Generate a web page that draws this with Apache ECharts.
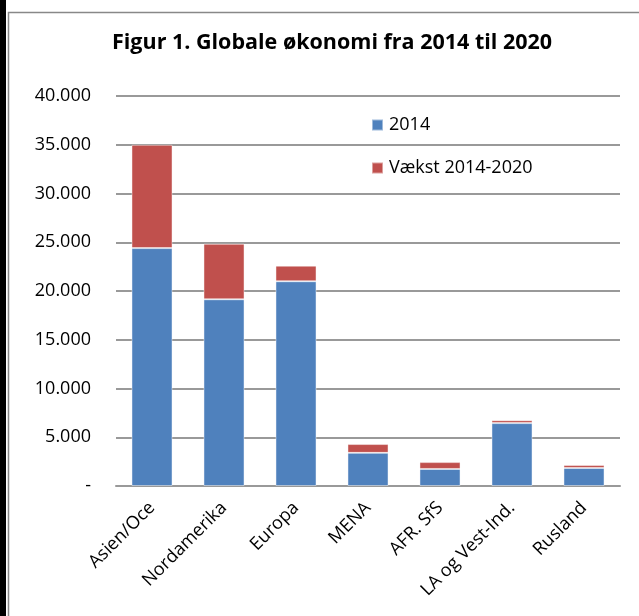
<!DOCTYPE html>
<html>
<head>
<meta charset="utf-8">
<script src="https://cdn.jsdelivr.net/npm/echarts@6/dist/echarts.min.js"></script>
<style>
html,body{margin:0;padding:0;background:#fff;}
#c{width:639px;height:616px;}
</style>
</head>
<body>
<div id="c"></div>
<script>
var categories = ['Asien/Oce', 'Nordamerika', 'Europa', 'MENA', 'AFR. SfS', 'LA og Vest-Ind.', 'Rusland'];
var base2014 = [24400, 19150, 21000, 3400, 1750, 6450, 1850];
var vaekst = [10600, 5700, 1600, 900, 700, 300, 300];
var seriesNames = ['2014', 'Vækst 2014-2020'];
var titleText = 'Figur 1. Globale økonomi fra 2014 til 2020';

var font = 'Open Sans';
var chart = echarts.init(document.getElementById('c'));
chart.setOption({
  animation: false,
  backgroundColor: '#fff',
  title: {
    text: titleText,
    left: 112,
    top: 32,
    padding: 0,
    textStyle: { fontFamily: font, fontWeight: 'bold', fontSize: 21.5, color: '#000' }
  },
  legend: {
    orient: 'vertical',
    left: 366,
    top: 111,
    itemWidth: 11,
    itemHeight: 11,
    itemGap: 25,
    icon: 'rect',
    textStyle: { fontFamily: font, fontSize: 18, color: '#000', padding: [0, 0, 0, 1] },
    data: seriesNames
  },
  graphic: [
    { type: 'rect', shape: { x: 0, y: 0, width: 6, height: 616 }, style: { fill: '#000' } },
    { type: 'polyline', shape: { points: [[8.5, 616], [8.5, 12.5], [639, 12.5]] }, style: { stroke: '#888', lineWidth: 1.5, fill: null } }
  ],
  grid: { left: 116, right: 19, top: 96, bottom: 130, containLabel: false },
  xAxis: {
    type: 'category',
    data: categories,
    axisLine: { show: true, lineStyle: { color: '#999', width: 2 } },
    axisTick: { show: false },
    axisLabel: { rotate: 45, interval: 0, fontFamily: font, fontSize: 18, color: '#000', margin: 19 }
  },
  yAxis: {
    type: 'value',
    min: 0,
    max: 40000,
    interval: 5000,
    axisLine: { show: false },
    axisTick: { show: false },
    splitLine: { lineStyle: { color: '#999', width: 2 } },
    axisLabel: {
      fontFamily: font, fontSize: 18, color: '#000', margin: 25,
      formatter: function (v) { return v === 0 ? '-' : (v / 1000).toFixed(3); }
    }
  },
  series: [
    {
      name: seriesNames[0], type: 'bar', stack: 'a', data: base2014,
      barWidth: '57%',
      itemStyle: { color: '#4F81BD', borderColor: 'rgba(255,255,255,0.45)', borderWidth: 1 }
    },
    {
      name: seriesNames[1], type: 'bar', stack: 'a', data: vaekst,
      barWidth: '57%',
      itemStyle: { color: '#C0504D', borderColor: 'rgba(255,255,255,0.45)', borderWidth: 1 }
    }
  ]
});
</script>
</body>
</html>
